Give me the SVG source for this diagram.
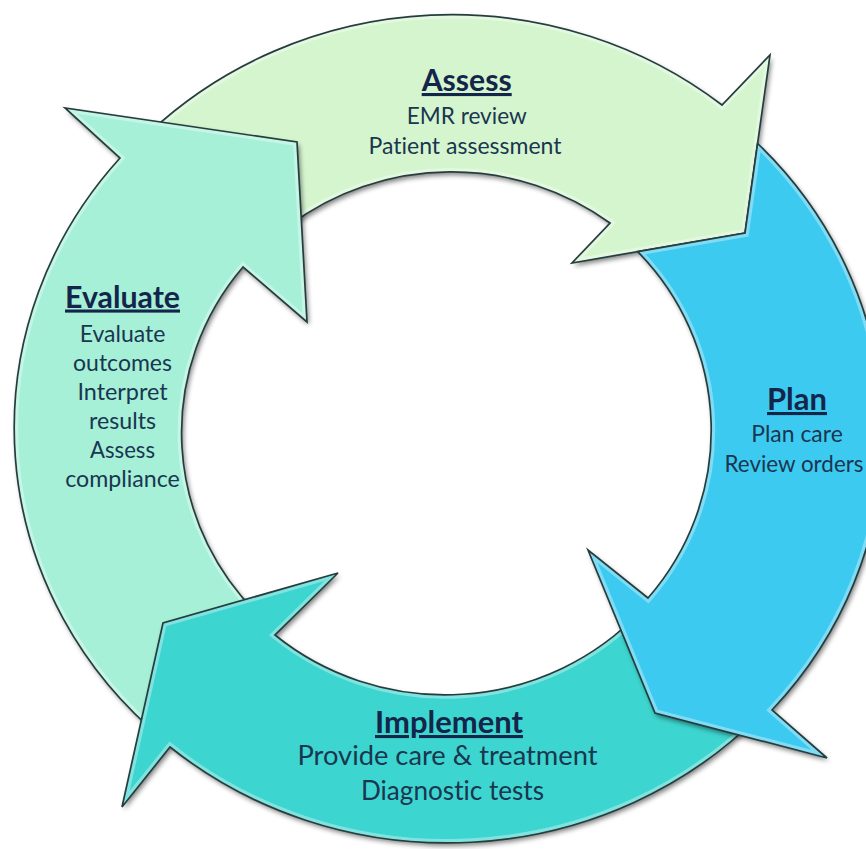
<svg xmlns="http://www.w3.org/2000/svg" width="866" height="849" viewBox="0 0 866 849">
<defs>
<style>
.outline{fill:none;stroke:#253d3d;stroke-width:1.7;stroke-linejoin:miter}
.rim{fill:none;stroke:#ffffff;stroke-opacity:0.35;stroke-width:8}
.hd{font-family:Lato,"Open Sans","Liberation Sans",sans-serif;font-weight:700;text-anchor:middle;text-decoration:underline;fill:#14254a;font-variant-ligatures:none}
.sub{font-family:Lato,"Open Sans","Liberation Sans",sans-serif;font-weight:400;text-anchor:middle;fill:#1a3650;font-variant-ligatures:none}
.fA{fill:#d5f5cf}
.fE{fill:#a5f0d7}
.fI{fill:#3dd5cf}
.fP{fill:#3ccaf0}
</style>
<filter id="shadow" x="-10%" y="-10%" width="125%" height="125%">
<feGaussianBlur in="SourceAlpha" stdDeviation="2.5"/>
<feOffset dx="2" dy="3" result="o"/>
<feComponentTransfer in="o" result="s"><feFuncA type="linear" slope="0.5"/></feComponentTransfer>
<feMerge><feMergeNode in="s"/><feMergeNode in="SourceGraphic"/></feMerge>
</filter>
<path id="pA" d="M150,132 A432,412 0 0 1 722,105 L770,55 L745,233 L572,263 L610,223 A266,259 0 0 0 290,225 Z"/>
<path id="pE" d="M164,740 A432,412 0 0 1 120,158 L65,108 L297,142 L307,322 L243,267 A266,259 0 0 0 264,620 Z"/>
<path id="pI" d="M760,715 A432,412 0 0 1 170,747 L122,807 L163,623 L338,573 L275,635 A266,259 0 0 0 640,612 Z"/>
<path id="pP" d="M757.6,143.5 A432,412 0 0 1 772,710 L827,758 L655,713 L588,550 L648,598 A266,259 0 0 0 637.7,251.6 L745,233 Z"/>
<clipPath id="cA"><use href="#pA"/></clipPath>
<clipPath id="cE"><use href="#pE"/></clipPath>
<clipPath id="cI"><use href="#pI"/></clipPath>
<clipPath id="cP"><use href="#pP"/></clipPath>
</defs>
<rect width="866" height="849" fill="#ffffff"/>

<g id="assess">
<use href="#pA" class="fA" filter="url(#shadow)"/>
<use href="#pA" class="rim" clip-path="url(#cA)"/>
<use href="#pA" class="outline"/>
<text class="hd" x="466.7" y="91" font-size="31" textLength="90" lengthAdjust="spacingAndGlyphs">Assess</text>
<text class="sub" x="466.7" y="123.5" font-size="23" textLength="120" lengthAdjust="spacingAndGlyphs">EMR review</text>
<text class="sub" x="465" y="153.5" font-size="23" textLength="193" lengthAdjust="spacingAndGlyphs">Patient assessment</text>
</g>

<g id="evaluate">
<use href="#pE" class="fE" filter="url(#shadow)"/>
<use href="#pE" class="rim" clip-path="url(#cE)"/>
<use href="#pE" class="outline"/>
<text class="hd" x="122.5" y="307.5" font-size="31" textLength="115" lengthAdjust="spacingAndGlyphs">Evaluate</text>
<text class="sub" x="122.5" y="342" font-size="23" textLength="85.7" lengthAdjust="spacingAndGlyphs">Evaluate</text>
<text class="sub" x="122.5" y="371" font-size="23" textLength="99" lengthAdjust="spacingAndGlyphs">outcomes</text>
<text class="sub" x="122.5" y="400" font-size="23" textLength="90.2" lengthAdjust="spacingAndGlyphs">Interpret</text>
<text class="sub" x="122.5" y="429" font-size="23" textLength="67" lengthAdjust="spacingAndGlyphs">results</text>
<text class="sub" x="122.5" y="458" font-size="23" textLength="65" lengthAdjust="spacingAndGlyphs">Assess</text>
<text class="sub" x="122.5" y="487" font-size="23" textLength="114.6" lengthAdjust="spacingAndGlyphs">compliance</text>
</g>

<g id="implement">
<use href="#pI" class="fI" filter="url(#shadow)"/>
<use href="#pI" class="rim" clip-path="url(#cI)"/>
<use href="#pI" class="outline"/>
<text class="hd" x="449" y="733" font-size="31" textLength="148" lengthAdjust="spacingAndGlyphs">Implement</text>
<text class="sub" x="447.5" y="765" font-size="27" textLength="300" lengthAdjust="spacingAndGlyphs">Provide care &amp; treatment</text>
<text class="sub" x="452.5" y="800" font-size="27" textLength="183" lengthAdjust="spacingAndGlyphs">Diagnostic tests</text>
</g>

<g id="plan">
<use href="#pP" class="fP" filter="url(#shadow)"/>
<use href="#pP" class="rim" clip-path="url(#cP)"/>
<use href="#pP" class="outline"/>
<text class="hd" x="797" y="410" font-size="31" textLength="60" lengthAdjust="spacingAndGlyphs">Plan</text>
<text class="sub" x="797" y="441.5" font-size="23" textLength="91.6" lengthAdjust="spacingAndGlyphs" fill="#1a3f73">Plan care</text>
<text class="sub" x="794" y="471.5" font-size="23" textLength="139" lengthAdjust="spacingAndGlyphs" fill="#1a3f73">Review orders</text>
</g>

<g id="connectors"/>
</svg>
